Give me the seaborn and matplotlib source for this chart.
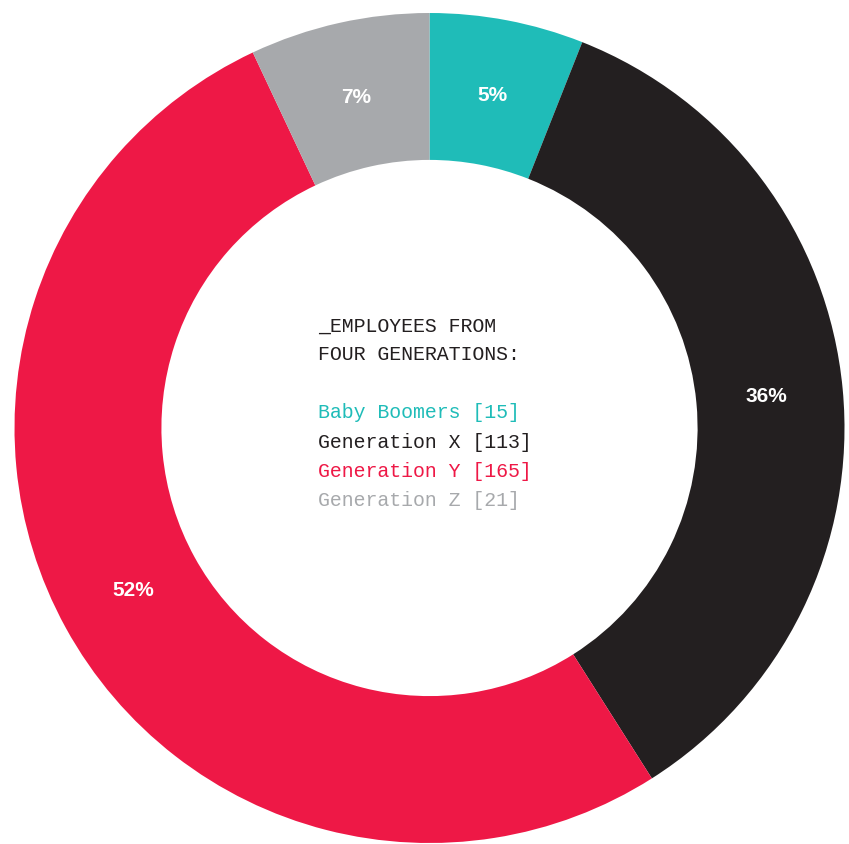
import matplotlib
matplotlib.use("Agg")
import matplotlib.pyplot as plt
import seaborn as sns

# data
groups = ['Baby Boomers', 'Generation X', 'Generation Y', 'Generation Z']
counts = [15, 113, 165, 21]
# slice sizes as drawn in the chart (share of the ring)
slice_share = [6.0, 35.0, 52.0, 7.0]
pct_labels = ['5%', '36%', '52%', '7%']
colors = ['#1fbcb8', '#231f20', '#ee1846', '#a7a9ac']

sns.set_theme(style="white")
plt.rcParams['font.family'] = ['DejaVu Sans']

fig = plt.figure(figsize=(8.49, 8.44), dpi=100)
ax = fig.add_axes([0, 0, 1, 1])

wedges, texts, autotexts = ax.pie(
    slice_share, colors=colors, startangle=90, counterclock=False,
    radius=1.0, wedgeprops=dict(width=0.354, linewidth=0),
    autopct='%1.0f%%', pctdistance=0.815)
for t, lab in zip(autotexts, pct_labels):
    t.set_text(lab)
    t.set_color('white')
    t.set_fontsize(15)
    t.set_fontweight('bold')
    t.set_family('Liberation Sans')

# fit pixel layout: center at (429.5, 428), radius 415 px
cx, cy, s = 429.5, 428.0, 415.0
ax.set_xlim(-cx / s, (849 - cx) / s)
ax.set_ylim(-(844 - cy) / s, cy / s)
ax.set_aspect('auto')
ax.axis('off')

# center text
def px(x, y):
    return (x - cx) / s, (cy - y) / s

x0 = 318
mono = 'Liberation Mono'
for i, line in enumerate(['_EMPLOYEES FROM', 'FOUR GENERATIONS:']):
    ax.text(*px(x0, 326 + i * 29), line, family=mono, fontsize=14.3,
            color='#231f20', ha='left', va='center')
for i, (g, c, col) in enumerate(zip(groups, counts, colors)):
    ax.text(*px(x0, 413 + i * 29.2), f'{g} [{c}]', family=mono, fontsize=14.3,
            color=col, ha='left', va='center')

fig.savefig('out.png', dpi=100, facecolor='white')
